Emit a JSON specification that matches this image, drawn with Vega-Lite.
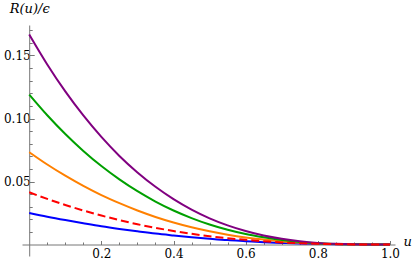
{
  "$schema": "https://vega.github.io/schema/vega-lite/v6.json",
  "width": 373,
  "height": 231,
  "autosize": {"type": "none"},
  "padding": {"left": 22, "top": 25, "right": 20, "bottom": 9},
  "background": "white",
  "config": {
    "view": {"stroke": null},
    "axis": {
      "grid": false,
      "labelFont": "DejaVu Serif",
      "labelFontSize": 12,
      "labelColor": "black",
      "domainColor": "#777777",
      "tickColor": "#777777",
      "domainWidth": 1,
      "tickWidth": 1
    }
  },
  "data": {
    "values": [
      {"s": "blue", "u": 0.00, "R": 0.0251}, {"s": "blue", "u": 0.05, "R": 0.0221}, {"s": "blue", "u": 0.10, "R": 0.0194}, {"s": "blue", "u": 0.15, "R": 0.0169}, {"s": "blue", "u": 0.20, "R": 0.0145}, {"s": "blue", "u": 0.25, "R": 0.0124}, {"s": "blue", "u": 0.30, "R": 0.0105}, {"s": "blue", "u": 0.35, "R": 0.0087}, {"s": "blue", "u": 0.40, "R": 0.0072}, {"s": "blue", "u": 0.45, "R": 0.0058}, {"s": "blue", "u": 0.50, "R": 0.0046}, {"s": "blue", "u": 0.55, "R": 0.0035}, {"s": "blue", "u": 0.60, "R": 0.0027}, {"s": "blue", "u": 0.65, "R": 0.0019}, {"s": "blue", "u": 0.70, "R": 0.0013}, {"s": "blue", "u": 0.75, "R": 0.0008}, {"s": "blue", "u": 0.80, "R": 0.0005}, {"s": "blue", "u": 0.85, "R": 0.0002}, {"s": "blue", "u": 0.90, "R": 0.0001}, {"s": "blue", "u": 0.95, "R": 0.0}, {"s": "blue", "u": 1.00, "R": 0.0},
      {"s": "orange", "u": 0.00, "R": 0.0733}, {"s": "orange", "u": 0.05, "R": 0.0635}, {"s": "orange", "u": 0.10, "R": 0.0546}, {"s": "orange", "u": 0.15, "R": 0.0465}, {"s": "orange", "u": 0.20, "R": 0.0392}, {"s": "orange", "u": 0.25, "R": 0.0328}, {"s": "orange", "u": 0.30, "R": 0.0270}, {"s": "orange", "u": 0.35, "R": 0.0219}, {"s": "orange", "u": 0.40, "R": 0.0175}, {"s": "orange", "u": 0.45, "R": 0.0137}, {"s": "orange", "u": 0.50, "R": 0.0105}, {"s": "orange", "u": 0.55, "R": 0.0078}, {"s": "orange", "u": 0.60, "R": 0.0056}, {"s": "orange", "u": 0.65, "R": 0.0039}, {"s": "orange", "u": 0.70, "R": 0.0025}, {"s": "orange", "u": 0.75, "R": 0.0015}, {"s": "orange", "u": 0.80, "R": 0.0008}, {"s": "orange", "u": 0.85, "R": 0.0004}, {"s": "orange", "u": 0.90, "R": 0.0001}, {"s": "orange", "u": 0.95, "R": 0.0}, {"s": "orange", "u": 1.00, "R": 0.0},
      {"s": "green", "u": 0.00, "R": 0.1190}, {"s": "green", "u": 0.05, "R": 0.1026}, {"s": "green", "u": 0.10, "R": 0.0877}, {"s": "green", "u": 0.15, "R": 0.0743}, {"s": "green", "u": 0.20, "R": 0.0623}, {"s": "green", "u": 0.25, "R": 0.0517}, {"s": "green", "u": 0.30, "R": 0.0423}, {"s": "green", "u": 0.35, "R": 0.0341}, {"s": "green", "u": 0.40, "R": 0.0270}, {"s": "green", "u": 0.45, "R": 0.0210}, {"s": "green", "u": 0.50, "R": 0.0159}, {"s": "green", "u": 0.55, "R": 0.0117}, {"s": "green", "u": 0.60, "R": 0.0083}, {"s": "green", "u": 0.65, "R": 0.0057}, {"s": "green", "u": 0.70, "R": 0.0036}, {"s": "green", "u": 0.75, "R": 0.0021}, {"s": "green", "u": 0.80, "R": 0.0011}, {"s": "green", "u": 0.85, "R": 0.0005}, {"s": "green", "u": 0.90, "R": 0.0002}, {"s": "green", "u": 0.95, "R": 0.0}, {"s": "green", "u": 1.00, "R": 0.0},
      {"s": "purple", "u": 0.00, "R": 0.1667}, {"s": "purple", "u": 0.05, "R": 0.1429}, {"s": "purple", "u": 0.10, "R": 0.1215}, {"s": "purple", "u": 0.15, "R": 0.1024}, {"s": "purple", "u": 0.20, "R": 0.0854}, {"s": "purple", "u": 0.25, "R": 0.0703}, {"s": "purple", "u": 0.30, "R": 0.0572}, {"s": "purple", "u": 0.35, "R": 0.0458}, {"s": "purple", "u": 0.40, "R": 0.0360}, {"s": "purple", "u": 0.45, "R": 0.0277}, {"s": "purple", "u": 0.50, "R": 0.0208}, {"s": "purple", "u": 0.55, "R": 0.0152}, {"s": "purple", "u": 0.60, "R": 0.0107}, {"s": "purple", "u": 0.65, "R": 0.0071}, {"s": "purple", "u": 0.70, "R": 0.0045}, {"s": "purple", "u": 0.75, "R": 0.0026}, {"s": "purple", "u": 0.80, "R": 0.0013}, {"s": "purple", "u": 0.85, "R": 0.0006}, {"s": "purple", "u": 0.90, "R": 0.0002}, {"s": "purple", "u": 0.95, "R": 0.0}, {"s": "purple", "u": 1.00, "R": 0.0},
      {"s": "red", "u": 0.00, "R": 0.0415}, {"s": "red", "u": 0.05, "R": 0.0362}, {"s": "red", "u": 0.10, "R": 0.0314}, {"s": "red", "u": 0.15, "R": 0.0270}, {"s": "red", "u": 0.20, "R": 0.0230}, {"s": "red", "u": 0.25, "R": 0.0194}, {"s": "red", "u": 0.30, "R": 0.0161}, {"s": "red", "u": 0.35, "R": 0.0133}, {"s": "red", "u": 0.40, "R": 0.0107}, {"s": "red", "u": 0.45, "R": 0.0085}, {"s": "red", "u": 0.50, "R": 0.0066}, {"s": "red", "u": 0.55, "R": 0.0050}, {"s": "red", "u": 0.60, "R": 0.0037}, {"s": "red", "u": 0.65, "R": 0.0026}, {"s": "red", "u": 0.70, "R": 0.0017}, {"s": "red", "u": 0.75, "R": 0.0011}, {"s": "red", "u": 0.80, "R": 0.0006}, {"s": "red", "u": 0.85, "R": 0.0003}, {"s": "red", "u": 0.90, "R": 0.0001}, {"s": "red", "u": 0.95, "R": 0.0}, {"s": "red", "u": 1.00, "R": 0.0}
    ]
  },
  "layer": [
    {
      "transform": [{"filter": "datum.s != 'red'"}],
      "mark": {"type": "line", "strokeWidth": 2, "interpolate": "monotone"},
      "encoding": {
        "x": {
          "field": "u", "type": "quantitative",
          "scale": {"domain": [-0.02, 1.014], "nice": false, "zero": false},
          "axis": {
            "orient": "bottom", "offset": -11.5,
            "values": [0.2, 0.4, 0.6, 0.8, 1.0], "format": ".1f",
            "tickSize": -4, "labelPadding": 8,
            "labelFont": "DejaVu Serif", "labelFontSize": 12,
            "title": "u", "titleFont": "DejaVu Serif", "titleFontStyle": "italic",
            "titleFontWeight": "normal", "titleFontSize": 13, "titleColor": "black",
            "titleX": 381, "titleY": -3, "titleAlign": "left", "titleBaseline": "middle", "titleAngle": 0
          }
        },
        "y": {
          "field": "R", "type": "quantitative",
          "scale": {"domain": [-0.0091, 0.1742], "nice": false, "zero": false},
          "axis": {
            "orient": "left", "offset": -7.2,
            "values": [0.05, 0.1, 0.15], "format": ".2f",
            "tickSize": -5, "labelPadding": 4,
            "labelFont": "DejaVu Serif", "labelFontSize": 12,
            "title": "R(u)/ϵ", "titleFont": "DejaVu Serif", "titleFontStyle": "italic",
            "titleFontWeight": "normal", "titleFontSize": 13, "titleColor": "black",
            "titleX": 0, "titleY": -17, "titleAlign": "center", "titleBaseline": "middle", "titleAngle": 0
          }
        },
        "color": {
          "field": "s", "type": "nominal",
          "scale": {"domain": ["blue", "orange", "green", "purple"], "range": ["#0000ff", "#ff8000", "#00a000", "#800080"]},
          "legend": null
        }
      }
    },
    {
      "transform": [{"filter": "datum.s == 'red'"}],
      "mark": {"type": "line", "strokeWidth": 2, "strokeDash": [8, 4], "color": "#ff0000", "interpolate": "monotone"},
      "encoding": {
        "x": {
          "field": "u", "type": "quantitative",
          "axis": {
            "orient": "bottom", "offset": -11.5,
            "values": [0.05, 0.1, 0.15, 0.25, 0.3, 0.35, 0.45, 0.5, 0.55, 0.65, 0.7, 0.75, 0.85, 0.9, 0.95],
            "tickSize": -2.5, "labels": false, "domain": false, "title": null
          }
        },
        "y": {
          "field": "R", "type": "quantitative",
          "axis": {
            "orient": "left", "offset": -7.2,
            "values": [0.01, 0.02, 0.03, 0.04, 0.06, 0.07, 0.08, 0.09, 0.11, 0.12, 0.13, 0.14, 0.16, 0.17],
            "tickSize": -3, "labels": false, "domain": false, "title": null
          }
        }
      }
    }
  ],
  "resolve": {"axis": {"x": "independent", "y": "independent"}}
}
